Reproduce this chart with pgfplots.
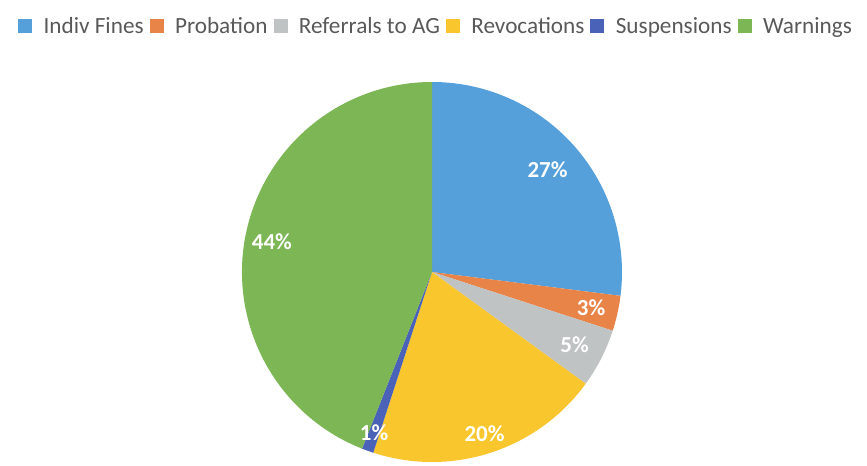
\documentclass[border=0pt]{standalone}
\usepackage{fontspec}
\setmainfont{Carlito}
\usepackage{pgfplots}
\pgfplotsset{compat=1.18}

\definecolor{cFines}{HTML}{55A0DA}
\definecolor{cProb}{HTML}{E98448}
\definecolor{cRef}{HTML}{BFC3C4}
\definecolor{cRevo}{HTML}{F9C62E}
\definecolor{cSusp}{HTML}{4A62B8}
\definecolor{cWarn}{HTML}{7DB655}
\definecolor{legtext}{HTML}{595959}

% #1 cumulative start (%), #2 share (%), #3 colour
\newcommand\pieslice[3]{%
  \fill[#3] (axis cs:432,194) -- ++({90-3.6*(#1)}:190bp)
    arc[start angle={90-3.6*(#1)}, delta angle={-3.6*(#2)}, radius=190bp] -- cycle;
}
% #1 cumulative start (%), #2 share (%), #3 label distance (bp)
\newcommand\pielabel[3]{%
  \path (axis cs:432,194) ++({90-3.6*((#1)+(#2)/2)}:#3bp)
    node[text=white, inner sep=0pt, font=\fontsize{23}{23}\selectfont\bfseries] {#2\%};
}

\begin{document}
\begin{tikzpicture}
\begin{axis}[
  hide axis,
  scale only axis,
  x=1bp, y=1bp,
  xmin=0, xmax=867,
  ymin=0, ymax=466,
  legend columns=-1,
  legend image code/.code={\fill[#1] (0bp,-6.5bp) rectangle (13bp,6.5bp);},
  legend style={
    at={(axis cs:435,440)}, anchor=center,
    draw=none, fill=none, inner sep=0pt,
    font=\fontsize{23.3}{24}\selectfont, text=legtext,
    nodes={inner sep=0pt},
    /tikz/every even column/.append style={column sep=6bp},
    /tikz/every odd column/.append style={column sep=12bp},
  },
]
\addlegendimage{cFines}\addlegendentry{Indiv Fines}
\addlegendimage{cProb}\addlegendentry{Probation}
\addlegendimage{cRef}\addlegendentry{Referrals to AG}
\addlegendimage{cRevo}\addlegendentry{Revocations}
\addlegendimage{cSusp}\addlegendentry{Suspensions}
\addlegendimage{cWarn}\addlegendentry{Warnings}

\pieslice{0}{27}{cFines}
\pieslice{27}{3}{cProb}
\pieslice{30}{5}{cRef}
\pieslice{35}{20}{cRevo}
\pieslice{55}{1}{cSusp}
\pieslice{56}{44}{cWarn}

\pielabel{0}{27}{154}
\pielabel{27}{3}{163}
\pielabel{30}{5}{160}
\pielabel{35}{20}{170}
\pielabel{55}{1}{171}
\pielabel{56}{44}{163}
\end{axis}
\pgfresetboundingbox
\path[use as bounding box] (0,0) rectangle (867bp,466bp);
\end{tikzpicture}
\end{document}
